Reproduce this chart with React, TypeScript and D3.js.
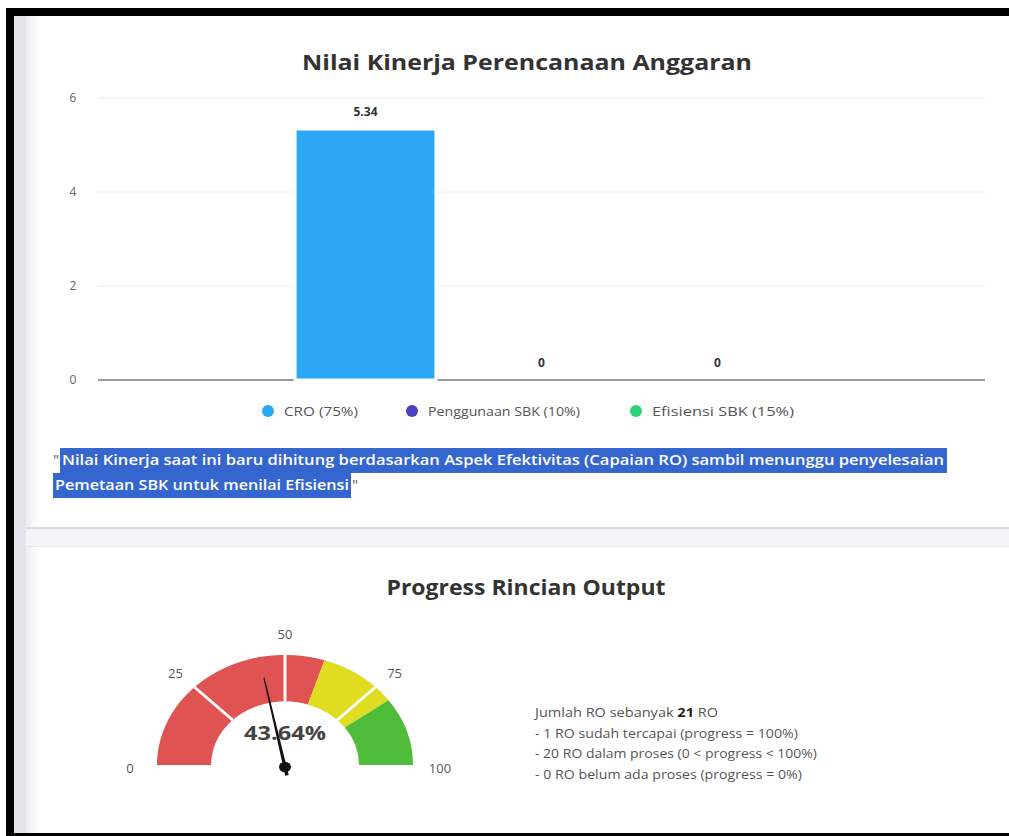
import React from 'react';
import * as d3 from 'd3';

// bar chart data
const categories = ['CRO (75%)', 'Penggunaan SBK (10%)', 'Efisiensi SBK (15%)'];
const values = [5.34, 0, 0];
const barColors = ['#2ba7f6', '#4b3fbd', '#2fd27c'];
const yTicks = [0, 2, 4, 6];

const quoteLines = [
  'Nilai Kinerja saat ini baru dihitung berdasarkan Aspek Efektivitas (Capaian RO) sambil menunggu penyelesaian',
  'Pemetaan SBK untuk menilai Efisiensi',
];

// gauge data
const gaugeValue = 43.64;
const bandFrom = [0, 60, 80];
const bandTo = [60, 80, 100];
const bandColors = ['#e05353', '#dfdc22', '#4fbc3a'];
const gaugeTicks = [0, 25, 50, 75, 100];
const separators = [25, 50, 75];

const roTotal = 21;
const roDone = 1;
const roRunning = 20;
const roNone = 0;

const FONT = "'Open Sans', 'DejaVu Sans', sans-serif";

function BarCard() {
  const y = d3.scaleLinear().domain([0, 6]).range([380, 98]);
  const x = d3.scaleBand<string>()
    .domain(categories)
    .range([98, 985])
    .paddingInner(0.2)
    .paddingOuter(1.12);

  // legend layout (dot x positions, text widths)
  const legendX = [268, 412, 636];
  const legendW = [74, 152, 142];

  return (
    <g>
      <text x={527} y={70} textAnchor="middle" fontFamily={FONT} fontWeight={700}
            fontSize={22} fill="#333" textLength={450} lengthAdjust="spacingAndGlyphs">
        Nilai Kinerja Perencanaan Anggaran
      </text>

      {yTicks.map(t =>
        <g key={t}>
          {t > 0 && <line x1={98} x2={985} y1={y(t)} y2={y(t)} stroke="#ececec" strokeWidth={1} />}
          <text x={73} y={y(t)} dy="0.35em" textAnchor="middle" fontFamily={FONT}
                fontSize={12} fill="#666">{t}</text>
        </g>
      )}
      <line x1={98} x2={985} y1={y(0)} y2={y(0)} stroke="#9a9a9a" strokeWidth={2} />

      {categories.map((c, i) =>
        <g key={c}>
          <rect x={x(c)} y={y(values[i])} width={x.bandwidth()}
                height={Math.max(0, y(0) - y(values[i]))}
                fill={barColors[i]} stroke="#fff" strokeWidth={3} />
          <text x={(x(c) || 0) + x.bandwidth() / 2} y={y(values[i]) - 13}
                textAnchor="middle" fontFamily={FONT} fontWeight={700}
                fontSize={12} fill="#333">{values[i]}</text>
        </g>
      )}

      {categories.map((c, i) =>
        <g key={c} transform={`translate(${legendX[i]},411)`}>
          <circle r={6} fill={barColors[i]} />
          <text x={16} dy="0.35em" fontFamily={FONT} fontSize={13} fill="#555"
                textLength={legendW[i]} lengthAdjust="spacingAndGlyphs">{c}</text>
        </g>
      )}

      <text x={53} y={465} fontFamily={FONT} fontWeight={600} fontSize={14} fill="#777">"</text>
      <rect x={60} y={448} width={887} height={25} fill="#3566cf" />
      <rect x={53} y={473} width={298} height={25} fill="#3566cf" />
      <text x={62} y={465} fontFamily={FONT} fontWeight={600} fontSize={14} fill="#fff"
            textLength={882} lengthAdjust="spacingAndGlyphs">{quoteLines[0]}</text>
      <text x={55} y={490} fontFamily={FONT} fontWeight={600} fontSize={14} fill="#fff"
            textLength={294} lengthAdjust="spacingAndGlyphs">{quoteLines[1]}</text>
      <text x={352} y={490} fontFamily={FONT} fontWeight={600} fontSize={14} fill="#777">"</text>
    </g>
  );
}

function GaugeCard() {
  const cx = 285, cy = 765, sy = 0.86;
  const rIn = 74, rOut = 128, rLabel = 155;
  const a = d3.scaleLinear().domain([0, 100]).range([-Math.PI / 2, Math.PI / 2]);
  const arc = d3.arc<any>();
  const pt = (v: number, r: number) => [cx + r * Math.sin(a(v)), cy - r * Math.cos(a(v)) * sy];

  const na = a(gaugeValue);
  const tipR = 106, tailR = 10;
  const ux = Math.sin(na), uy = -Math.cos(na);
  const px = -uy, py = ux;
  const needle = [
    [-ux * tailR + px * 1.8, -uy * tailR + py * 1.8],
    [ux * tipR + px * 0.6, uy * tipR + py * 0.6],
    [ux * tipR - px * 0.6, uy * tipR - py * 0.6],
    [-ux * tailR - px * 1.8, -uy * tailR - py * 1.8],
  ];

  // info lines and their measured widths in the picture
  const infoW = [183, 263, 282, 267];

  return (
    <g>
      <text x={526} y={595} textAnchor="middle" fontFamily={FONT} fontWeight={700}
            fontSize={22} fill="#333" textLength={279} lengthAdjust="spacingAndGlyphs">
        Progress Rincian Output
      </text>

      <g transform={`translate(${cx},${cy}) scale(1,${sy})`}>
        {bandFrom.map((f, i) =>
          <path key={i} fill={bandColors[i]}
                d={arc({ innerRadius: rIn, outerRadius: rOut, startAngle: a(f), endAngle: a(bandTo[i]) }) || ''} />
        )}
        {separators.map(s =>
          <line key={s} x1={rIn * Math.sin(a(s))} y1={-rIn * Math.cos(a(s))}
                x2={rOut * Math.sin(a(s))} y2={-rOut * Math.cos(a(s))}
                stroke="#fff" strokeWidth={3} />
        )}
      </g>

      {gaugeTicks.map(t => {
        const [lx, ly] = pt(t, rLabel);
        return <text key={t} x={lx} y={ly + 3} dy="0.35em" textAnchor="middle"
                     fontFamily={FONT} fontSize={13} fill="#555">{t}</text>;
      })}

      <text x={cx} y={733} dy="0.35em" textAnchor="middle" fontFamily={FONT}
            fontWeight={700} fontSize={19} fill="#444" textLength={82}
            lengthAdjust="spacingAndGlyphs">{gaugeValue.toFixed(2)}%</text>

      <g transform={`translate(${cx},${cy + 2}) scale(1,${sy})`}>
        <polygon points={needle.map(p => p.join(',')).join(' ')} fill="#111" />
        <circle r={6} fill="#111" />
      </g>

      <g fontFamily={FONT} fontSize={12} fill="#555">
        <text x={535} y={717} textLength={infoW[0]} lengthAdjust="spacingAndGlyphs">
          Jumlah RO sebanyak <tspan fontWeight={700} fill="#222">{roTotal}</tspan> RO</text>
        <text x={535} y={738} textLength={infoW[1]} lengthAdjust="spacingAndGlyphs">
          - {roDone} RO sudah tercapai (progress = 100%)</text>
        <text x={535} y={758} textLength={infoW[2]} lengthAdjust="spacingAndGlyphs">
          - {roRunning} RO dalam proses (0 &lt; progress &lt; 100%)</text>
        <text x={535} y={779} textLength={infoW[3]} lengthAdjust="spacingAndGlyphs">
          - {roNone} RO belum ada proses (progress = 0%)</text>
      </g>
    </g>
  );
}

export default function App() {
  const W = 1009, H = 836;
  return (
    <svg width={W} height={H} style={{ position: 'absolute', left: 0, top: 0 }}>
      <defs>
        <linearGradient id="edge" x1="0" x2="1" y1="0" y2="0">
          <stop offset="0" stopColor="#eeeef2" />
          <stop offset="1" stopColor="#ffffff" />
        </linearGradient>
      </defs>
      <rect width={W} height={H} fill="#fff" />
      <rect x={14} y={16} width={W - 14} height={817} fill="#f3f4f6" />
      <rect x={14} y={16} width={12} height={817} fill="#e3e4e9" />

      {/* card 1 */}
      <rect x={26} y={10} width={990} height={519} fill="#dcdde1" />
      <rect x={26} y={10} width={990} height={517} fill="#fff" />
      <rect x={26} y={10} width={14} height={517} fill="url(#edge)" />
      {/* card 2 */}
      <rect x={26} y={546} width={990} height={300} fill="#e6e7ea" />
      <rect x={26} y={547} width={990} height={300} fill="#fff" />
      <rect x={26} y={547} width={14} height={300} fill="url(#edge)" />

      <BarCard />
      <GaugeCard />

      {/* screenshot frame */}
      <rect x={6} y={8} width={W - 6} height={8} fill="#000" />
      <rect x={6} y={8} width={8} height={H - 8} fill="#000" />
      <rect x={6} y={833} width={W - 6} height={3} fill="#000" />
    </svg>
  );
}
